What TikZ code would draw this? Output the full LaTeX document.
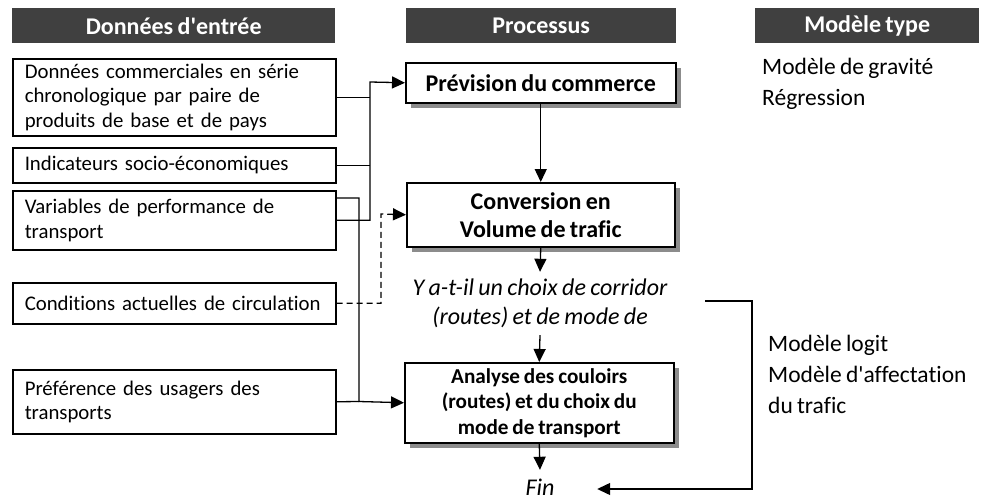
\documentclass[tikz,border=0pt]{standalone}
\usepackage{fontspec}
\setmainfont{Carlito}[Ligatures={TeX,NoCommon}]
\newfontfamily\boxfont{Carlito}[Ligatures={TeX,NoCommon},WordSpace=0.8]
\usetikzlibrary{arrows.meta,shadows}
\definecolor{hdr}{HTML}{404040}
\definecolor{shd}{HTML}{8C8C8C}
\newcommand{\apos}{\textquotesingle}
\begin{document}
\begin{tikzpicture}[x=1pt,y=-1pt,
  hdrbox/.style={fill=hdr,text=white,font=\fontsize{24}{28}\selectfont\bfseries,anchor=north west,inner sep=0pt,minimum height=35pt},
  inbox/.style={draw,line width=1.5pt,anchor=north west,align=left,inner xsep=12pt,inner ysep=0pt,text width=299pt,font=\boxfont\fontsize{20.8}{24.5}\selectfont},
  procbox/.style={draw,line width=1.5pt,fill=white,anchor=north west,align=center,inner sep=0pt,font=\fontsize{24}{28}\selectfont\bfseries,
     drop shadow={shadow xshift=5pt,shadow yshift=-5pt,fill=shd,opacity=1}},
  conn/.style={line width=1.3pt},
  arr/.style={line width=1.3pt,-{Triangle[length=13pt,width=12pt]}},
  plain/.style={align=left,anchor=north west,inner sep=0pt,font=\fontsize{23.5}{31}\selectfont},
  ital/.style={align=center,inner sep=0pt,font=\fontsize{24}{29}\selectfont\itshape}
]
\useasboundingbox (0,0) rectangle (982,501);
% headers
\node[hdrbox,minimum width=323pt] (h1) at (12,8) {Données d\apos entrée};
\node[hdrbox,minimum width=270pt] (h2) at (406,8) {Processus};
\node[hdrbox,minimum width=224pt] (h3) at (755,8) {Modèle type};
% input boxes
\node[inbox,minimum height=77pt] (in1) at (12,58) {Données commerciales en série\\chronologique par paire de\\produits de base et de pays};
\node[inbox,minimum height=35pt] (in2) at (12,147) {Indicateurs socio-économiques};
\node[inbox,minimum height=59pt] (in3) at (12,190) {Variables de performance de\\transport};
\node[inbox,minimum height=41pt] (in4) at (12,282) {\mbox{Conditions actuelles de circulation}};
\node[inbox,minimum height=64pt] (in5) at (12,369) {Préférence des usagers des\\transports};
% process boxes
\node[procbox,minimum width=270pt,minimum height=40pt] (p1) at (405,62) {Prévision du commerce};
\node[procbox,minimum width=268pt,minimum height=64pt] (p2) at (406,182) {Conversion en\\Volume de trafic};
\node[ital,minimum height=63pt] (q) at (540,303.5) {Y a-t-il un choix de corridor\\(routes) et de mode de};
\node[procbox,minimum width=269pt,minimum height=80pt,font=\fontsize{21.2}{25.5}\selectfont\bfseries] (p3) at (404,362) {Analyse des couloirs\\(routes) et du choix du\\mode de transport};
\node[ital,minimum height=34pt,minimum width=114pt] (fin) at (540,487) {Fin};
% model texts
\node[plain] (m1) at (762,58) {Modèle de gravité\\Régression};
\node[plain] (m2) at (768,335) {Modèle logit\\Modèle d\apos affectation\\du trafic};
% connectors
\coordinate (j1) at (370,82);
\coordinate (j2) at (359,401.5);
\coordinate (j3) at (381,214);
\coordinate (e3) at (335,198);
\coordinate (b1) at (705,301);
\coordinate (b2) at (752,489);
\draw[arr] (in3.east) -| (j1) -- (p1.west);
\draw[conn] (in1.east) -- (in1.east -| j1);
\draw[conn] (in2.east) -- (in2.east -| j1);
\draw[arr] (e3) -| (j2) -- (p3.west);
\draw[conn] (in5.east) -- (j2);
\draw[arr,dashed,dash pattern=on 6pt off 4pt] (in4.east) -| (j3) -- (p2.west);
\draw[arr] (p1.south) -- (p2.north);
\draw[arr] (p2.south) -- (q.north);
\draw[arr] (q.south) -- (p3.north);
\draw[arr] (p3.south) -- (fin.north);
\draw[arr] (b1) -| (b2) -- (fin.east |- b2);
\end{tikzpicture}
\end{document}
